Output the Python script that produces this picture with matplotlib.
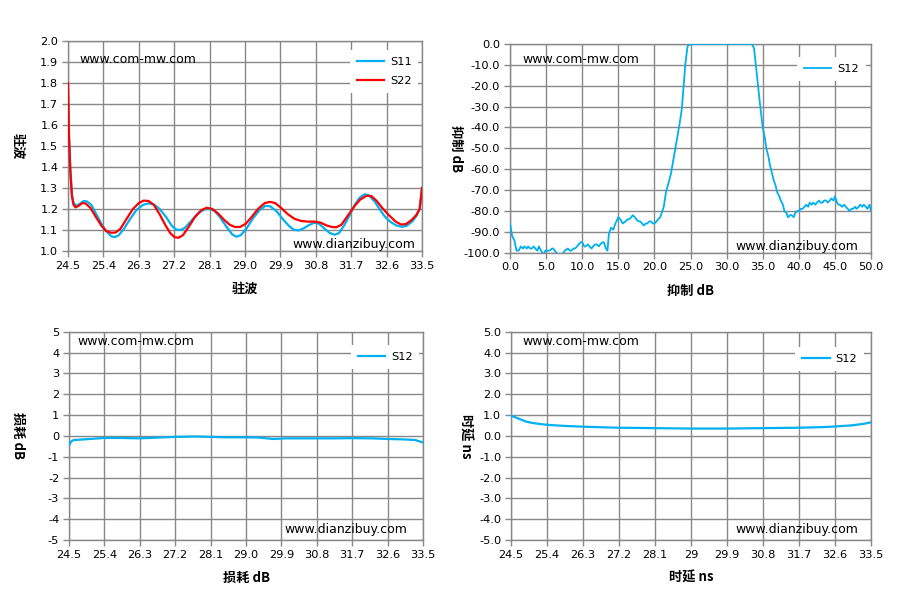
import numpy as np
import matplotlib
matplotlib.use("Agg")
import matplotlib.pyplot as plt
from matplotlib.ticker import FuncFormatter

plt.rcParams['font.family'] = ['DejaVu Sans', 'Noto Sans CJK SC']

# ---- data ----
vswr_freq = [24.50, 24.525, 24.56, 24.60, 24.64, 24.71, 24.80, 24.90, 24.98, 25.09,
             25.22, 25.35, 25.47, 25.60, 25.69, 25.79, 25.92, 26.07, 26.24, 26.41,
             26.55, 26.68, 26.83, 27.00, 27.14, 27.25, 27.36, 27.47, 27.64, 27.81,
             27.97, 28.10, 28.23, 28.37, 28.53, 28.67, 28.78, 28.89, 29.03, 29.20,
             29.37, 29.52, 29.64, 29.80, 29.97, 30.14, 30.26, 30.37, 30.49, 30.64,
             30.77, 30.88, 31.03, 31.16, 31.28, 31.39, 31.53, 31.66, 31.79, 31.92,
             32.04, 32.15, 32.30, 32.42, 32.55, 32.69, 32.84, 32.99, 33.11, 33.25,
             33.37, 33.44, 33.50]
s11 = [1.79, 1.55, 1.38, 1.27, 1.23, 1.215, 1.225, 1.238, 1.236, 1.22,
       1.175, 1.13, 1.095, 1.07, 1.066, 1.075, 1.105, 1.15, 1.195, 1.22,
       1.227, 1.222, 1.20, 1.16, 1.12, 1.102, 1.10, 1.11, 1.145, 1.18,
       1.198, 1.20, 1.19, 1.16, 1.115, 1.08, 1.068, 1.075, 1.105, 1.155,
       1.195, 1.215, 1.213, 1.19, 1.15, 1.115, 1.10, 1.098, 1.108, 1.125,
       1.135, 1.13, 1.105, 1.085, 1.078, 1.085, 1.125, 1.17, 1.22, 1.255,
       1.27, 1.265, 1.235, 1.20, 1.165, 1.14, 1.122, 1.115, 1.12, 1.14,
       1.17, 1.20, 1.30]

s22_freq = [24.50, 24.525, 24.56, 24.60, 24.64, 24.69, 24.77, 24.86, 24.95, 25.07,
            25.20, 25.35, 25.47, 25.60, 25.71, 25.83, 25.98, 26.15, 26.30, 26.42,
            26.55, 26.68, 26.83, 26.97, 27.10, 27.21, 27.31, 27.42, 27.57, 27.72,
            27.89, 28.03, 28.17, 28.31, 28.46, 28.61, 28.75, 28.88, 29.02, 29.16,
            29.33, 29.50, 29.64, 29.77, 29.92, 30.09, 30.26, 30.43, 30.59, 30.77,
            30.92, 31.07, 31.22, 31.32, 31.45, 31.62, 31.79, 31.93, 32.08, 32.21,
            32.34, 32.49, 32.66, 32.83, 32.97, 33.09, 33.22, 33.35, 33.44, 33.50]
s22 = [1.80, 1.55, 1.38, 1.26, 1.22, 1.208, 1.215, 1.228, 1.226, 1.205,
       1.165, 1.12, 1.095, 1.087, 1.088, 1.105, 1.15, 1.20, 1.228, 1.24,
       1.238, 1.22, 1.175, 1.125, 1.085, 1.066, 1.063, 1.075, 1.115, 1.16,
       1.195, 1.206, 1.20, 1.18, 1.15, 1.125, 1.114, 1.115, 1.13, 1.16,
       1.20, 1.228, 1.234, 1.228, 1.205, 1.175, 1.153, 1.143, 1.14, 1.14,
       1.135, 1.122, 1.114, 1.113, 1.125, 1.17, 1.215, 1.245, 1.262, 1.262,
       1.24, 1.205, 1.17, 1.14, 1.126, 1.128, 1.145, 1.17, 1.20, 1.30]

# rejection sweep, 0-50 (frequency, dB) pairs
rej_points = [
    (0.0, -86), (0.3, -92), (0.6, -94), (0.9, -99), (1.2, -99), (1.5, -97),
    (1.8, -98), (2.0, -97), (2.3, -98), (2.5, -97), (2.8, -98), (3.0, -98),
    (3.3, -97), (3.5, -98), (3.8, -99), (4.0, -97), (4.3, -99), (4.6, -101),
    (4.9, -99), (5.2, -99), (5.5, -99), (5.8, -98), (6.0, -98), (6.4, -100),
    (6.8, -101), (7.2, -101), (7.6, -99), (8.0, -98), (8.3, -99), (8.5, -99),
    (8.8, -98), (9.0, -98), (9.3, -97), (9.5, -96), (9.8, -95), (10.0, -95),
    (10.3, -97), (10.5, -97), (10.8, -96), (11.0, -97), (11.3, -98), (11.5, -97),
    (11.8, -96), (12.0, -96), (12.3, -97), (12.5, -96), (12.8, -95), (13.0, -95),
    (13.3, -98), (13.5, -99), (13.7, -91), (14.0, -88), (14.3, -89), (14.6, -86),
    (15.0, -83), (15.3, -84), (15.6, -86), (16.0, -85), (16.3, -84), (16.5, -84),
    (16.8, -83), (17.0, -82), (17.3, -83), (17.5, -84), (17.8, -85), (18.0, -85),
    (18.3, -86), (18.5, -87), (18.8, -86), (19.0, -86), (19.3, -85), (19.5, -85),
    (19.8, -86), (20.0, -86), (20.3, -85), (20.5, -84), (20.8, -83), (21.0, -81),
    (21.3, -78), (21.6, -71), (22.0, -66), (22.3, -62), (22.5, -58), (22.8, -52),
    (23.0, -48), (23.3, -42), (23.5, -38), (23.8, -31), (24.0, -22), (24.3, -9),
    (24.6, -1), (25.0, 0), (27.5, 0), (30.0, 0), (33.0, 0), (33.5, 0),
    (33.8, -2), (34.2, -15), (34.6, -28), (35.0, -40), (35.3, -45), (35.5, -50),
    (35.8, -54), (36.0, -58), (36.3, -62), (36.5, -65), (36.8, -68), (37.0, -71),
    (37.3, -73), (37.5, -75), (37.8, -77), (38.0, -80), (38.3, -81), (38.5, -83),
    (38.8, -82), (39.0, -82), (39.3, -83), (39.5, -81), (39.8, -80), (40.0, -80),
    (40.3, -79), (40.5, -79), (40.8, -78), (41.0, -77), (41.3, -78), (41.5, -76),
    (41.8, -77), (42.0, -76), (42.3, -77), (42.5, -76), (42.8, -75), (43.0, -76),
    (43.3, -76), (43.5, -75), (43.8, -75), (44.0, -76), (44.3, -75), (44.5, -74),
    (44.8, -75), (45.0, -73), (45.3, -76), (45.5, -77), (45.7, -77), (46.0, -78),
    (46.3, -77), (46.5, -78), (46.8, -79), (47.0, -80), (47.3, -79), (47.5, -79),
    (47.8, -78), (48.0, -79), (48.3, -78), (48.5, -77), (48.8, -78), (49.0, -77),
    (49.3, -78), (49.5, -79), (49.8, -77), (50.0, -80),
]
rej_freq = [p[0] for p in rej_points]
s12_rej = [p[1] for p in rej_points]

il_freq = [24.50, 24.55, 24.62, 24.8, 25.1, 25.4, 25.8, 26.3, 26.8, 27.2, 27.7,
           28.1, 28.5, 29.0, 29.3, 29.7, 30.0, 30.4, 30.8, 31.2, 31.7, 32.2,
           32.6, 33.0, 33.3, 33.5]
s12_il = [-0.45, -0.28, -0.2, -0.18, -0.14, -0.1, -0.1, -0.12, -0.08, -0.05, -0.03,
          -0.05, -0.07, -0.07, -0.08, -0.15, -0.12, -0.12, -0.12, -0.12, -0.11, -0.12,
          -0.15, -0.17, -0.2, -0.32]

gd_freq = [24.5, 24.7, 24.9, 25.1, 25.4, 25.8, 26.3, 26.8, 27.2, 28.1, 29.0,
           29.9, 30.8, 31.7, 32.3, 32.6, 33.0, 33.3, 33.5]
s12_gd = [0.97, 0.82, 0.67, 0.60, 0.53, 0.48, 0.44, 0.41, 0.39, 0.37, 0.35,
          0.35, 0.37, 0.39, 0.42, 0.45, 0.50, 0.57, 0.65]

freq_ticks = [24.5, 25.4, 26.3, 27.2, 28.1, 29.0, 29.9, 30.8, 31.7, 32.6, 33.5]
freq_ticklabels = ['24.5', '25.4', '26.3', '27.2', '28.1', '29.0', '29.9',
                   '30.8', '31.7', '32.6', '33.5']
freq_ticklabels_gd = ['24.5', '25.4', '26.3', '27.2', '28.1', '29', '29.9',
                      '30.8', '31.7', '32.6', '33.5']

CYAN = '#00b0f0'
RED = '#ff0000'
GRID = '#888888'
CJK = ['Noto Sans CJK SC', 'DejaVu Sans']

fig = plt.figure(figsize=(8.97, 6.05), dpi=100)
W, H = 897, 605


def make_ax(l, t, r, b):
    return fig.add_axes([l / W, 1 - b / H, (r - l) / W, (b - t) / H])


ax_tl = make_ax(68, 41, 422, 251)
ax_tr = make_ax(510, 44, 871, 252.7)
ax_bl = make_ax(69, 331.7, 423, 540)
ax_br = make_ax(511, 331.7, 871, 540)


def style(ax, xticks, xlabels, yticks, yfmt, xlabel, ylab_x, wm1, wm2):
    ax.set_xticks(xticks)
    ax.set_xticklabels(xlabels)
    ax.set_yticks(yticks)
    ax.yaxis.set_major_formatter(FuncFormatter(yfmt))
    ax.set_xlim(xticks[0], xticks[-1])
    ax.set_ylim(yticks[0], yticks[-1])
    ax.grid(True, color=GRID, lw=1.0)
    ax.set_axisbelow(True)
    for s in ax.spines.values():
        s.set_color(GRID)
        s.set_linewidth(1.0)
    ax.tick_params(colors=GRID, length=4, width=1.0, labelsize=8.2, labelcolor='black',
                   pad=3)
    ax.set_xlabel(xlabel, family=CJK, weight='bold', fontsize=9.5, labelpad=8)
    ax.set_ylabel(xlabel, family=CJK, weight='bold', fontsize=9.5, rotation=270,
                  va='center', ha='center')
    ax.yaxis.set_label_coords(ylab_x, 0.5)
    ax.text(wm1[0], wm1[1], 'www.com-mw.com', transform=ax.transAxes, fontsize=9,
            ha='left', va='center')
    ax.text(wm2[0], wm2[1], 'www.dianzibuy.com', transform=ax.transAxes, fontsize=9,
            ha='right', va='center')


def legend(ax, anchor):
    leg = ax.legend(loc='upper right', bbox_to_anchor=anchor, frameon=True,
                    fancybox=False, fontsize=8.2, handlelength=2.4, borderpad=0.6,
                    labelspacing=0.8, handletextpad=0.5, borderaxespad=0)
    leg.get_frame().set_facecolor('white')
    leg.get_frame().set_edgecolor('none')
    leg.get_frame().set_alpha(1)


# VSWR
ax_tl.plot(vswr_freq, s11, color=CYAN, lw=1.6, label='S11', zorder=3)
ax_tl.plot(s22_freq, s22, color=RED, lw=1.6, label='S22', zorder=3)
style(ax_tl, freq_ticks, freq_ticklabels, np.round(np.arange(1.0, 2.01, 0.1), 1),
      lambda v, p: f'{v:.1f}', '驻波', -0.141, (0.031, 0.914), (0.98, 0.03))
legend(ax_tl, (0.99, 0.957))

# rejection
ax_tr.plot(rej_freq, s12_rej, color=CYAN, lw=1.3, label='S12', zorder=3)
style(ax_tr, np.arange(0, 50.1, 5), [f'{v:.1f}' for v in np.arange(0, 50.1, 5)],
      np.arange(-100, 0.1, 10), lambda v, p: f'{v:.1f}', '抑制 dB', -0.15,
      (0.035, 0.928), (0.965, 0.032))
legend(ax_tr, (0.985, 0.938))

# insertion loss
ax_bl.plot(il_freq, s12_il, color=CYAN, lw=1.6, label='S12', zorder=3)
style(ax_bl, freq_ticks, freq_ticklabels, np.arange(-5, 5.1, 1),
      lambda v, p: f'{v:.0f}', '损耗 dB', -0.144, (0.024, 0.955), (0.956, 0.051))
legend(ax_bl, (0.99, 0.936))

# group delay
ax_br.plot(gd_freq, s12_gd, color=CYAN, lw=1.6, label='S12', zorder=3)
style(ax_br, freq_ticks, freq_ticklabels_gd, np.arange(-5, 5.1, 1),
      lambda v, p: f'{v:.1f}', '时延 ns', -0.128, (0.032, 0.952), (0.965, 0.051))
legend(ax_br, (0.98, 0.927))

fig.savefig('out.png', dpi=100)
